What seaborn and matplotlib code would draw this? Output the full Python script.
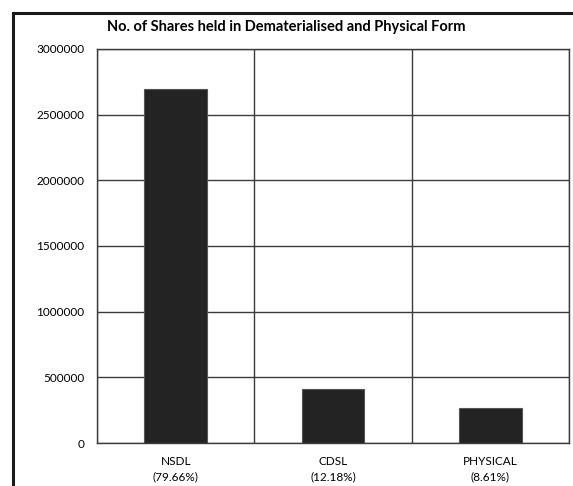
import matplotlib
matplotlib.use("Agg")
import matplotlib.pyplot as plt
import seaborn as sns
import pandas as pd
from matplotlib.patches import Rectangle

categories = ["NSDL", "CDSL", "PHYSICAL"]
percentages = ["79.66%", "12.18%", "8.61%"]
shares = [2695000, 410000, 270000]
yticks = [0, 500000, 1000000, 1500000, 2000000, 2500000, 3000000]
title = "No. of Shares held in Dematerialised and Physical Form"

labels = [f"{c}\n({p})" for c, p in zip(categories, percentages)]
df = pd.DataFrame({"label": labels, "shares": shares})

sns.set_theme(style="white")
plt.rcParams["font.family"] = ["Lato", "DejaVu Sans"]

fig = plt.figure(figsize=(5.73, 4.86), dpi=100)
ax = fig.add_axes([97/573, 1-443/486, (569-97)/573, (443-49)/486])

sns.barplot(data=df, x="label", y="shares", ax=ax, color="#232323",
            width=0.4, edgecolor="#555555", linewidth=0.8, saturation=1)

grid_c = "#3c3c3c"
ax.set_xlim(-0.5, 2.5)
ax.set_ylim(0, 3000000)
ax.set_yticks(yticks)
ax.set_yticklabels([str(v) for v in yticks])
ax.set_xticks([-0.5, 0.5, 1.5, 2.5], minor=True)
ax.tick_params(axis="x", which="major", length=0, pad=9)
ax.tick_params(axis="x", which="minor", length=4, width=1, color=grid_c, direction="out")
ax.tick_params(axis="y", length=5, width=1, color=grid_c, direction="out", pad=4)
ax.tick_params(labelsize=8.5, labelcolor="#000000")
for t in ax.get_xticklabels():
    t.set_linespacing(1.5)
ax.set_xlabel("")
ax.set_ylabel("")
ax.set_axisbelow(True)
ax.yaxis.grid(True, color=grid_c, linewidth=1)
ax.xaxis.grid(True, which="minor", color=grid_c, linewidth=1)
for s in ax.spines.values():
    s.set_color(grid_c)
    s.set_linewidth(1)
    s.set_visible(True)

fig.text(0.5, 1-27/486, title, ha="center", va="center", fontsize=10.5,
         fontweight="bold", color="#000000")

fig.patches.append(Rectangle((13/573, -0.1), 1.2, 1.1 - 13/486, transform=fig.transFigure,
                             fill=False, edgecolor="#1a1a1a", linewidth=2.2, zorder=10))

fig.savefig("out.png", dpi=100)
